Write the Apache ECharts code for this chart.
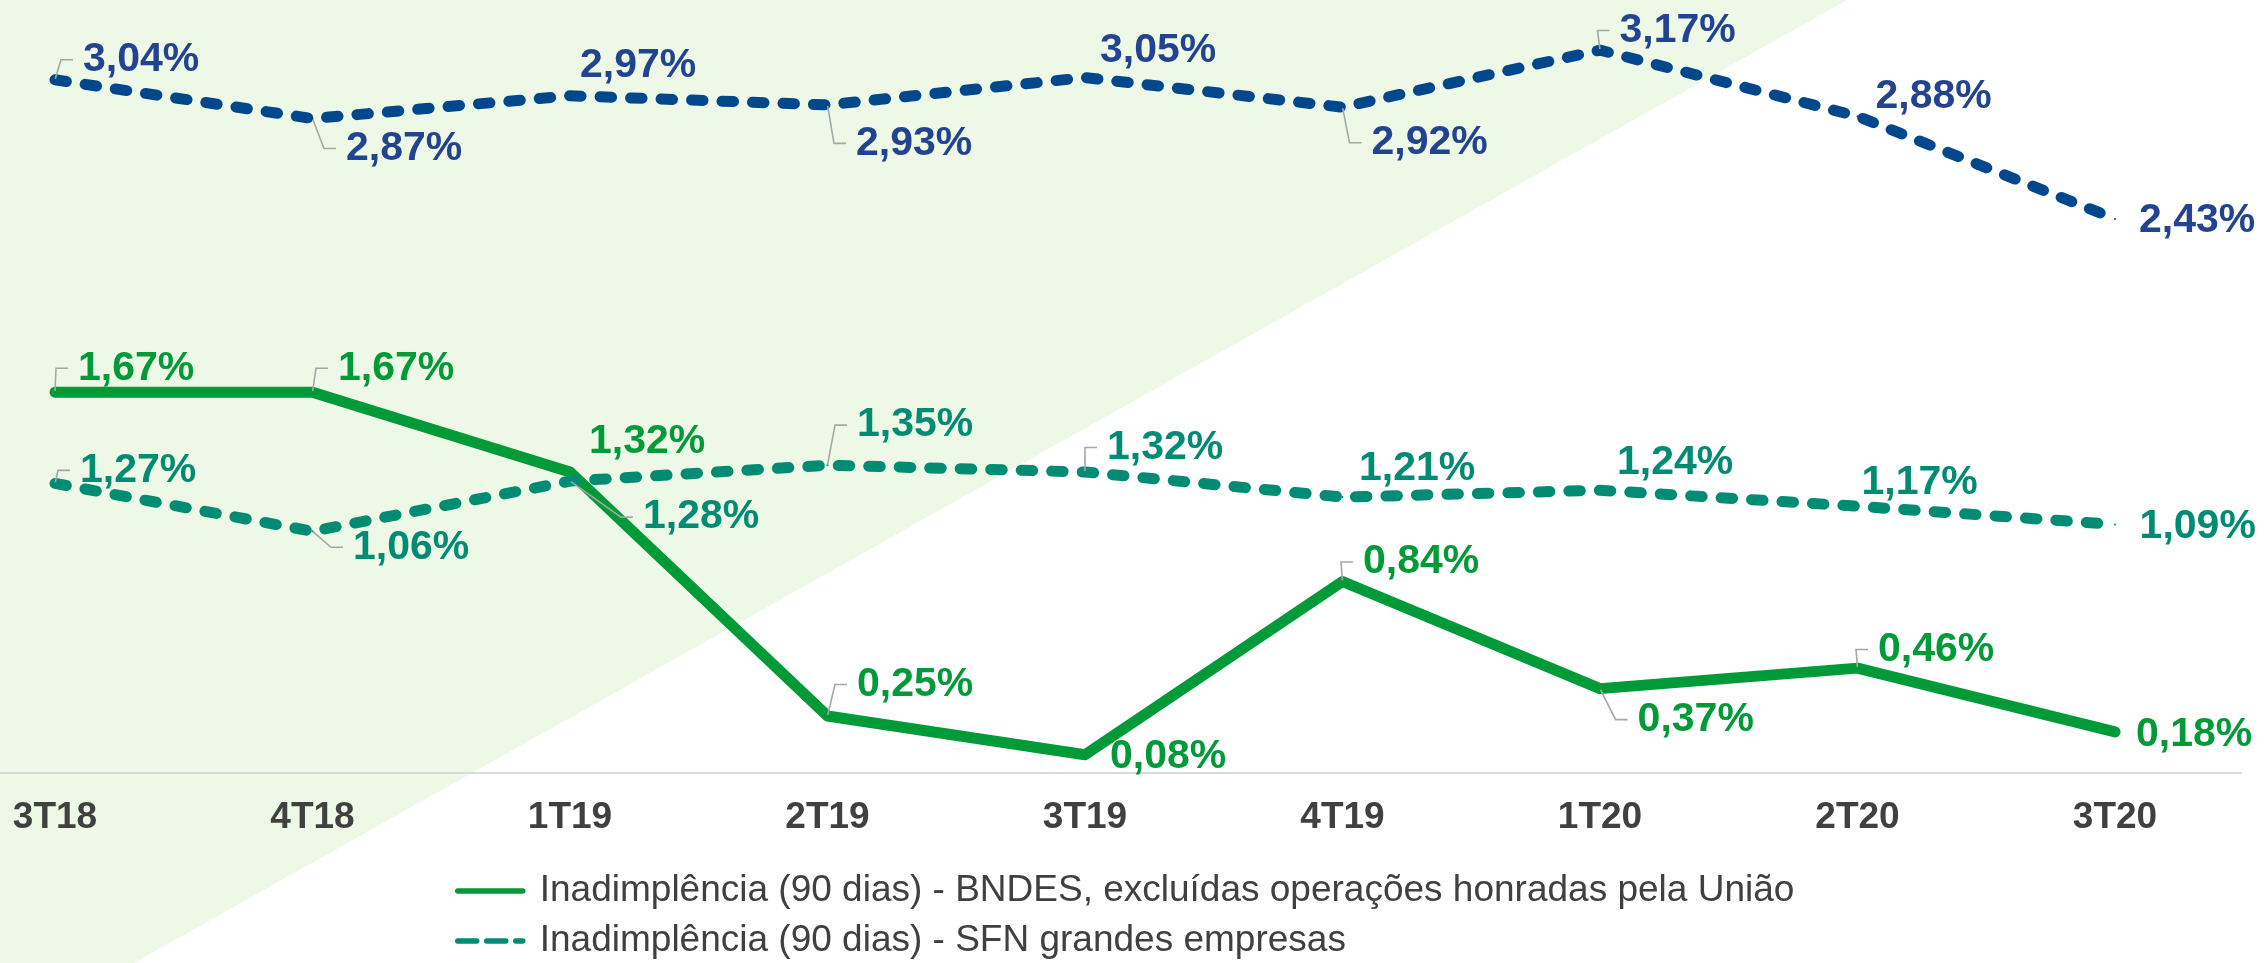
<!DOCTYPE html>
<html>
<head>
<meta charset="utf-8">
<script src="https://cdn.jsdelivr.net/npm/echarts@6/dist/echarts.min.js"></script>
<style>
html,body{margin:0;padding:0;background:#ffffff;}
#chart{width:2264px;height:963px;}
</style>
</head>
<body>
<div id="chart"></div>
<script>
// ---- data ----
const categories = ['3T18','4T18','1T19','2T19','3T19','4T19','1T20','2T20','3T20'];
const sfnTotalValues   = [3.04, 2.87, 2.97, 2.93, 3.05, 2.92, 3.17, 2.88, 2.43];
const sfnGrandesValues = [1.27, 1.06, 1.28, 1.35, 1.32, 1.21, 1.24, 1.17, 1.09];
const bndesValues      = [1.67, 1.67, 1.32, 0.25, 0.08, 0.84, 0.37, 0.46, 0.18];
const seriesNames = [
  'Inadimplência (90 dias) - SFN',
  'Inadimplência (90 dias) - SFN grandes empresas',
  'Inadimplência (90 dias) - BNDES, excluídas operações honradas pela União'
];

// ---- label placement (pixel offsets of text from point) and leader lines ----
const labelOffsets = [
  [[28,-20],[33.5,30],[10,-30],[28.5,38.5],[15,-26.4],[29,35.6],[19.5,-19.7],[18,-19.4],[24,1.5]],
  [[25,-13],[40.5,16],[73,36],[29.5,-40],[22,-24.5],[16.5,-28.6],[17,-27.8],[4,-23.7],[24.6,2.5]],
  [[23,-24],[25.5,-24],[19,-30],[29.5,-31.5],[25,2],[20.5,-19.5],[37.6,31],[20.5,-18.6],[21,2.5]]
];
const leaderShow = [
  [1,1,0,1,0,1,1,0,0],
  [1,1,1,1,1,0,0,0,0],
  [1,1,0,1,0,1,1,1,0]
];

const FONT = "'Liberation Sans', Arial, Helvetica, sans-serif";
const colors = {
  blueLine: '#00478C', blueText: '#22438F',
  tealLine: '#008B73', tealText: '#008B73',
  greenLine: '#009A38', greenText: '#009A38'
};
const SERIES_W = 11;
const LEGEND_W = 5.5;
const DASH = [11.5, 19];

function fmt(v) { return v.toFixed(2).replace('.', ',') + '%'; }

function buildData(values, sIdx) {
  return values.map((v, i) => ({
    value: v,
    labelLine: { show: !!leaderShow[sIdx][i] }
  }));
}

function makeSeries(sIdx, values, lineColor, textColor, dashType) {
  return {
    name: seriesNames[sIdx],
    type: 'line',
    data: buildData(values, sIdx),
    symbol: 'circle',
    symbolSize: 2,
    showSymbol: true,
    itemStyle: { color: lineColor },
    lineStyle: { color: lineColor, width: SERIES_W, type: dashType, cap: 'round', join: 'round' },
    label: {
      show: true,
      position: 'right',
      distance: 0,
      padding: [0, 0, 0, 10],
      fontFamily: FONT,
      fontSize: 41,
      fontWeight: 'bold',
      lineHeight: 42,
      color: textColor,
      formatter: p => fmt(p.value)
    },
    labelLine: {
      show: true,
      length2: 12,
      lineStyle: { color: '#A6A6A6', width: 1.6 }
    },
    labelLayout: function (params) {
      const o = labelOffsets[sIdx][params.dataIndex];
      return { dx: o[0] - 11, dy: o[1] };
    },
    z: 3
  };
}

const chart = echarts.init(document.getElementById('chart'), null, { renderer: 'canvas' });

chart.setOption({
  animation: false,
  backgroundColor: '#ffffff',
  graphic: [{
    type: 'polygon',
    silent: true,
    z: -10,
    shape: { points: [[0, 0], [1847, 0], [134, 963], [0, 963]] },
    style: { fill: '#EEF8E7' }
  }],
  grid: [
    { left: 55, right: 149, top: 0, bottom: 190, containLabel: false },
    { left: 0, right: 23, top: 0, bottom: 190, containLabel: false }
  ],
  xAxis: [{
    type: 'category',
    gridIndex: 0,
    data: categories,
    boundaryGap: false,
    axisLine: { show: false },
    axisTick: { show: false },
    splitLine: { show: false },
    axisLabel: {
      margin: 26,
      fontFamily: FONT,
      fontSize: 37,
      fontWeight: 'bold',
      lineHeight: 37,
      color: '#404040',
      interval: 0
    }
  }, {
    type: 'value',
    gridIndex: 1,
    min: 0, max: 1,
    axisLine: { show: true, lineStyle: { color: '#D9D9D9', width: 2 } },
    axisTick: { show: false },
    axisLabel: { show: false },
    splitLine: { show: false }
  }],
  yAxis: [{
    type: 'value',
    gridIndex: 0,
    min: 0, max: 3.39,
    show: false,
    splitLine: { show: false }
  }, {
    type: 'value',
    gridIndex: 1,
    min: 0, max: 1,
    show: false
  }],
  legend: {
    orient: 'vertical',
    left: 455,
    top: 871,
    padding: 0,
    itemWidth: 65,
    itemHeight: 14,
    itemGap: 10,
    data: [
      { name: seriesNames[2], lineStyle: { width: LEGEND_W, cap: 'round' } },
      { name: seriesNames[1], lineStyle: { width: LEGEND_W, cap: 'round', type: [19, 10] } }
    ],
    itemStyle: { opacity: 0 },
    lineStyle: { width: LEGEND_W, cap: 'round' },
    textStyle: {
      fontFamily: FONT,
      fontSize: 37,
      lineHeight: 40,
      color: '#404040',
      padding: [0, 0, 0, 12]
    },
    selectedMode: false
  },
  series: [
    makeSeries(0, sfnTotalValues, colors.blueLine, colors.blueText, DASH),
    makeSeries(2, bndesValues, colors.greenLine, colors.greenText, 'solid'),
    makeSeries(1, sfnGrandesValues, colors.tealLine, colors.tealText, DASH)
  ]
});
</script>
</body>
</html>
